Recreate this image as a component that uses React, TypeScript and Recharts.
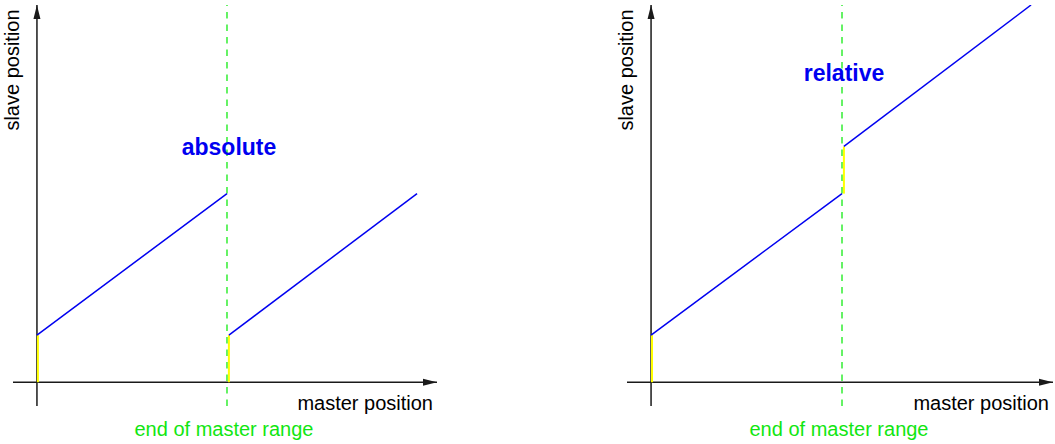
import { LineChart, Line, XAxis, YAxis, ReferenceLine, ReferenceDot, Label } from "recharts";

// master position units: 0 = start, 100 = end of master range
const xDomain: [number, number] = [-12.6, 210.5];
const yDomain: [number, number] = [-12.6, 200];
const rangeEnd = 100;

// absolute mode: slave jumps back to its start value
const absFirst = [
  { x: 0, y: 25 },
  { x: 100, y: 100 },
];
const absSecond = [
  { x: 101, y: 25 },
  { x: 200, y: 100 },
];
const absOffsets = [
  [{ x: 0.5, y: 0 }, { x: 0.5, y: 25 }],
  [{ x: 101, y: 0 }, { x: 101, y: 25 }],
];

// relative mode: slave keeps adding the offset
const relFirst = [
  { x: 0, y: 25 },
  { x: 100, y: 100 },
];
const relSecond = [
  { x: 101, y: 125 },
  { x: 199, y: 200 },
];
const relOffsets = [
  [{ x: 0.5, y: 0 }, { x: 0.5, y: 25 }],
  [{ x: 101, y: 100 }, { x: 101, y: 125 }],
];

const FONT = "'Liberation Sans', Arial, Helvetica, sans-serif";
const BLUE = "#0000f0";
const YELLOW = "#ffff00";
const GREEN = "#33ee33";
const GREEN_TEXT = "#11e611";
const AXIS = "#1a1a1a";

type Pt = { x: number; y: number };

function Panel({
  left,
  width,
  margin,
  first,
  second,
  offsets,
  title,
  titleDy,
}: {
  left: number;
  width: number;
  margin: { top: number; right: number; bottom: number; left: number };
  first: Pt[];
  second: Pt[];
  offsets: Pt[][];
  title: string;
  titleDy: number;
}) {
  return (
    <div style={{ position: "absolute", left, top: 0 }}>
      <LineChart width={width} height={444} margin={margin}>
        <XAxis type="number" dataKey="x" domain={xDomain} allowDataOverflow hide />
        <YAxis type="number" dataKey="y" domain={yDomain} allowDataOverflow hide />
        <ReferenceLine y={0} stroke={AXIS} strokeWidth={1.5}>
          <Label
            content={({ viewBox }: any) => (
              <text
                x={viewBox.x + viewBox.width - 4}
                y={viewBox.y + 28}
                textAnchor="end"
                fontFamily={FONT}
                fontSize={20}
                fill="#000"
              >
                master position
              </text>
            )}
          />
        </ReferenceLine>
        <ReferenceLine x={0} stroke={AXIS} strokeWidth={1.5}>
          <Label
            content={({ viewBox }: any) => (
              <text
                x={viewBox.x - 18}
                y={viewBox.y + 65}
                textAnchor="middle"
                fontFamily={FONT}
                fontSize={20}
                fill="#000"
                transform={`rotate(-90, ${viewBox.x - 18}, ${viewBox.y + 65})`}
              >
                slave position
              </text>
            )}
          />
        </ReferenceLine>
        <ReferenceDot
          x={xDomain[1]}
          y={0}
          r={0}
          shape={({ cx, cy }: any) => (
            <polygon points={`${cx},${cy} ${cx - 14},${cy - 3.5} ${cx - 14},${cy + 3.5}`} fill={AXIS} />
          )}
        />
        <ReferenceDot
          x={0}
          y={yDomain[1]}
          r={0}
          shape={({ cx, cy }: any) => (
            <polygon points={`${cx},${cy} ${cx - 3.5},${cy + 14} ${cx + 3.5},${cy + 14}`} fill={AXIS} />
          )}
        />
        <ReferenceLine x={rangeEnd} stroke={GREEN} strokeWidth={1.5} strokeDasharray="6.5 6">
          <Label
            content={({ viewBox }: any) => (
              <g fontFamily={FONT}>
                <text
                  x={viewBox.x - 3}
                  y={viewBox.y + viewBox.height + 30}
                  textAnchor="middle"
                  fontSize={20}
                  fill={GREEN_TEXT}
                >
                  end of master range
                </text>
                <text
                  x={viewBox.x + 2}
                  y={viewBox.y + titleDy}
                  textAnchor="middle"
                  fontSize={23}
                  fontWeight="bold"
                  fill={BLUE}
                >
                  {title}
                </text>
              </g>
            )}
          />
        </ReferenceLine>
        {offsets.map((seg, i) => (
          <Line
            key={`off-${i}`}
            data={seg}
            dataKey="y"
            type="linear"
            stroke={YELLOW}
            strokeWidth={2}
            dot={false}
            activeDot={false}
            isAnimationActive={false}
          />
        ))}
        <Line
          data={first}
          dataKey="y"
          type="linear"
          stroke={BLUE}
          strokeWidth={1.5}
          dot={false}
          activeDot={false}
          isAnimationActive={false}
        />
        <Line
          data={second}
          dataKey="y"
          type="linear"
          stroke={BLUE}
          strokeWidth={1.5}
          dot={false}
          activeDot={false}
          isAnimationActive={false}
        />
      </LineChart>
    </div>
  );
}

export default function App() {
  return (
    <div style={{ position: "absolute", left: 0, top: 0, width: 1055, height: 444, background: "#fff" }}>
      <Panel
        left={0}
        width={527}
        margin={{ top: 5, right: 90, bottom: 38, left: 13 }}
        first={absFirst}
        second={absSecond}
        offsets={absOffsets}
        title="absolute"
        titleDy={150}
      />
      <Panel
        left={527}
        width={528}
        margin={{ top: 5, right: 2, bottom: 38, left: 100 }}
        first={relFirst}
        second={relSecond}
        offsets={relOffsets}
        title="relative"
        titleDy={76}
      />
    </div>
  );
}
